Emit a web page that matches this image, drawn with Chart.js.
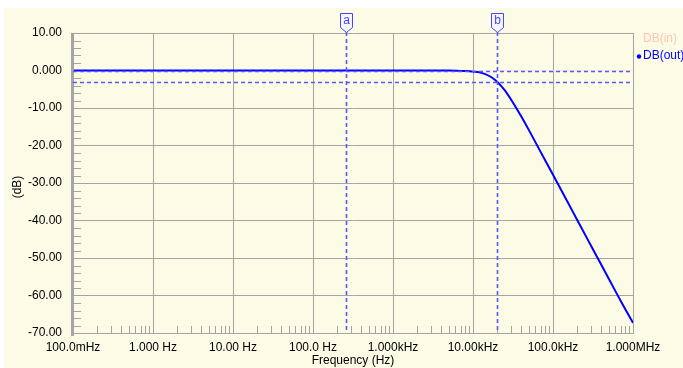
<!DOCTYPE html>
<html>
<head>
<meta charset="utf-8">
<script src="https://cdn.jsdelivr.net/npm/chart.js@4.4.1/dist/chart.umd.min.js"></script>
<style>
  html, body { margin: 0; padding: 0; background: #ffffff; }
  #wrap { width: 683px; height: 368px; position: relative; }
</style>
</head>
<body>
<div id="wrap"><canvas id="bode"></canvas></div>
<script>
// Frequency sweep (Hz) and measured output level (dB)
const freqHz = [0.1, 1, 10, 100, 1000, 5000, 7000, 8500, 10000, 12000, 14000, 17000, 20000,
                25000, 30000, 40000, 50000, 70000, 100000, 150000, 200000, 300000, 500000, 700000, 1000000];
const dbOut  = [0, 0, 0, 0, 0, 0, -0.1, -0.15, -0.3, -0.5, -0.9, -1.8, -3.0,
                -5.3, -7.8, -12.2, -15.9, -21.7, -27.8, -34.8, -39.8, -46.8, -55.6, -61.4, -67.3];
// Input level is flat across the sweep
const inFreqHz = [0.1, 1000000];
const dbIn     = [0, 0];

// Axis ticks
const xDecades = [0.1, 1, 10, 100, 1000, 10000, 100000, 1000000];
const xLabels  = ['100.0mHz', '1.000 Hz', '10.00 Hz', '100.0 Hz', '1.000kHz', '10.00kHz', '100.0kHz', '1.000MHz'];
const yValues  = [10, 0, -10, -20, -30, -40, -50, -60, -70];
const yLabels  = ['10.00', '0.000', '-10.00', '-20.00', '-30.00', '-40.00', '-50.00', '-60.00', '-70.00'];

// Cursors a and b
const cursorNames = ['a', 'b'];
const cursorFreq  = [258, 20000];
const cursorLevel = [0.0, -3.0];

const FONT = 'Liberation Sans, Arial, sans-serif';
const GRID = '#a4a4a4';
const PANEL = '#fcfbe6';
const CURSOR = '#4646ff';

const decorations = {
  id: 'decorations',
  beforeDraw(chart) {
    const c = chart.ctx;
    c.save();
    c.fillStyle = '#ffffff';
    c.fillRect(0, 0, chart.width, chart.height);
    c.fillStyle = PANEL;
    c.fillRect(4, 8, chart.width - 4, chart.height - 8);
    c.restore();
  },
  afterDatasetsDraw(chart) {
    const c = chart.ctx;
    const xs = chart.scales.x, ys = chart.scales.y;
    const a = chart.chartArea;
    c.save();
    // thick level axis
    c.fillStyle = GRID;
    c.fillRect(a.left - 2, a.top, 3, a.bottom - a.top + 3);
    // minor ticks on the frequency axis
    c.strokeStyle = GRID;
    c.lineWidth = 1;
    for (let d = 0; d < xDecades.length - 1; d++) {
      for (let m = 2; m <= 9; m++) {
        const px = Math.round(xs.getPixelForValue(xDecades[d] * m)) + 0.5;
        c.beginPath(); c.moveTo(px, a.bottom); c.lineTo(px, a.bottom - 7); c.stroke();
      }
    }
    // minor ticks on the level axis, every 2 dB
    for (let v = -70; v <= 10; v += 2) {
      if (v % 10 === 0) continue;
      const py = Math.round(ys.getPixelForValue(v)) + 0.5;
      c.beginPath(); c.moveTo(a.left, py); c.lineTo(a.left + 8, py); c.stroke();
    }
    // cursor lines
    c.strokeStyle = '#5858ff';
    c.lineWidth = 1.6;
    c.setLineDash([4, 3]);
    cursorLevel.forEach(v => {
      const py = Math.round(ys.getPixelForValue(v)) + 0.5;
      c.beginPath(); c.moveTo(a.left, py); c.lineTo(a.right, py); c.stroke();
    });
    cursorFreq.forEach(f => {
      const px = Math.round(xs.getPixelForValue(f)) + 0.5;
      c.beginPath(); c.moveTo(px, a.top - 1); c.lineTo(px, a.bottom); c.stroke();
    });
    c.setLineDash([]);
    c.lineWidth = 1;
    // cursor flags
    cursorFreq.forEach((f, i) => {
      const px = Math.round(xs.getPixelForValue(f)) + 0.5;
      c.beginPath();
      c.moveTo(px - 6, 13.5); c.lineTo(px + 6, 13.5); c.lineTo(px + 6, 27.5);
      c.lineTo(px, 32.5); c.lineTo(px - 6, 27.5); c.closePath();
      c.fillStyle = '#f6f6ff'; c.fill();
      c.strokeStyle = CURSOR; c.stroke();
      c.fillStyle = CURSOR;
      c.font = '12px ' + FONT;
      c.textAlign = 'center'; c.textBaseline = 'middle';
      c.fillText(cursorNames[i], px, 21);
    });
    c.restore();
  },
  afterDraw(chart) {
    const c = chart.ctx;
    const a = chart.chartArea;
    c.save();
    c.fillStyle = '#000000';
    c.font = '12px ' + FONT;
    c.textAlign = 'center'; c.textBaseline = 'middle';
    c.fillText('Frequency (Hz)', (a.left + a.right) / 2, 361);
    c.translate(18, (a.top + a.bottom) / 2 + 4);
    c.rotate(-Math.PI / 2);
    c.fillText('(dB)', 0, 0);
    c.restore();
    // trace legend
    c.save();
    c.font = '12px ' + FONT;
    c.textAlign = 'left'; c.textBaseline = 'middle';
    c.fillStyle = '#ffc4b4';
    c.fillText('DB(in)', 643, 39);
    c.fillStyle = '#0000ff';
    c.beginPath(); c.arc(639, 56.5, 2.2, 0, Math.PI * 2); c.fill();
    c.fillText('DB(out)', 643, 56);
    c.restore();
  }
};

new Chart(document.getElementById('bode'), {
  type: 'line',
  data: {
    datasets: [
      {
        label: 'DB(in)',
        data: inFreqHz.map((f, i) => ({ x: f, y: dbIn[i] })),
        borderColor: '#ffe2d8',
        borderWidth: 1,
        pointRadius: 0,
        tension: 0,
        order: 2
      },
      {
        label: 'DB(out)',
        data: freqHz.map((f, i) => ({ x: f, y: dbOut[i] })),
        borderColor: '#0000ff',
        borderWidth: 2,
        pointRadius: 0,
        cubicInterpolationMode: 'monotone',
        order: 1
      }
    ]
  },
  options: {
    responsive: true,
    maintainAspectRatio: false,
    animation: false,
    devicePixelRatio: 1,
    layout: { padding: { top: 33, right: 50, left: 0, bottom: 0 } },
    plugins: { legend: { display: false }, tooltip: { enabled: false } },
    scales: {
      x: {
        type: 'logarithmic',
        min: 0.1,
        max: 1000000,
        afterBuildTicks(scale) { scale.ticks = xDecades.map(v => ({ value: v })); },
        afterFit(scale) { scale.height = 35; },
        grid: { color: GRID, drawTicks: false, lineWidth: 1 },
        border: { display: true, color: GRID, width: 1 },
        ticks: {
          autoSkip: false,
          maxRotation: 0,
          padding: 7,
          color: '#000000',
          font: { family: FONT, size: 12 },
          callback(value) {
            const i = xDecades.findIndex(d => Math.abs(d - value) / d < 1e-6);
            return i >= 0 ? xLabels[i] : '';
          }
        }
      },
      y: {
        type: 'linear',
        min: -70,
        max: 10,
        afterBuildTicks(scale) { scale.ticks = yValues.slice().reverse().map(v => ({ value: v })); },
        afterFit(scale) { scale.width = 73; },
        grid: { color: GRID, drawTicks: false, lineWidth: 1 },
        border: { display: true, color: GRID, width: 1 },
        ticks: {
          padding: 11,
          color: '#000000',
          font: { family: FONT, size: 12 },
          callback(value) {
            const i = yValues.indexOf(value);
            return i >= 0 ? yLabels[i] : '';
          }
        }
      }
    }
  },
  plugins: [decorations]
});
</script>
</body>
</html>
